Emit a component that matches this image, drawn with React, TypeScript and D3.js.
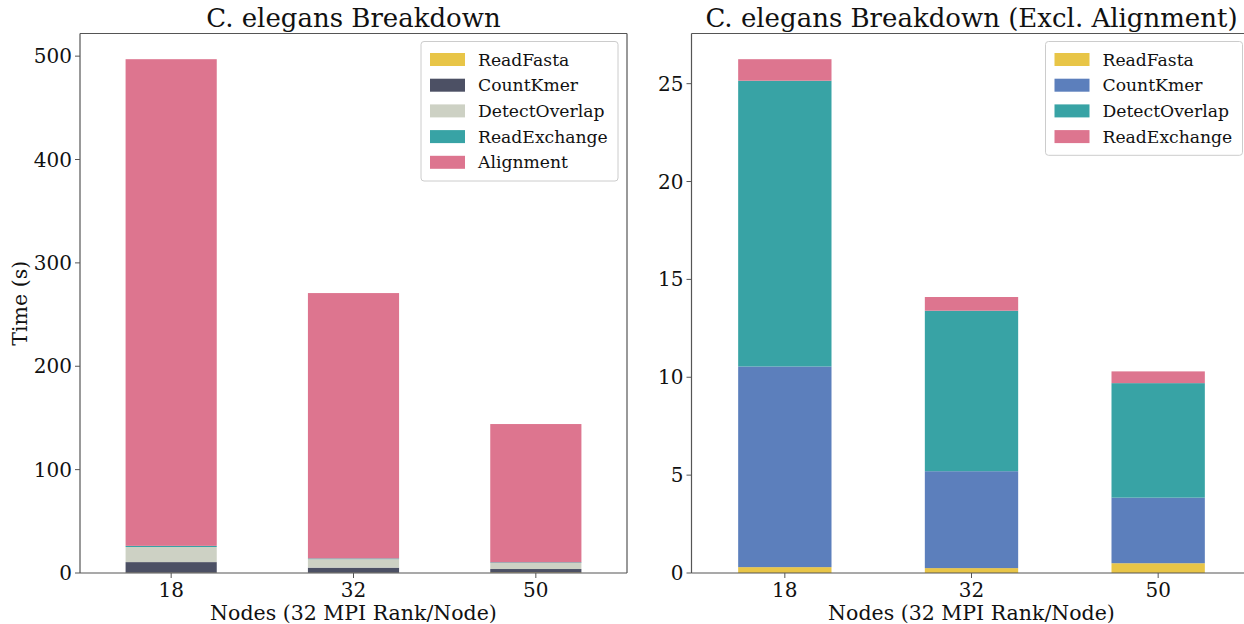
import React from "react";
import * as d3 from "d3";

// Node counts on the x axis
const categories = ["18", "32", "50"];

// Per-phase times in seconds
const readFasta = [0.3, 0.25, 0.5];
const countKmer = [10.25, 4.95, 3.35];
const detectOverlap = [14.6, 8.2, 5.85];
const readExchange = [1.1, 0.7, 0.6];
const alignment = [470.8, 256.7, 133.8];

const leftTicks = [0, 100, 200, 300, 400, 500];
const rightTicks = [0, 5, 10, 15, 20, 25];

const leftSeries = [
  { name: "ReadFasta", values: readFasta, color: "#E8C547" },
  { name: "CountKmer", values: countKmer, color: "#4C5064" },
  { name: "DetectOverlap", values: detectOverlap, color: "#CDD1C4" },
  { name: "ReadExchange", values: readExchange, color: "#38A3A5" },
  { name: "Alignment", values: alignment, color: "#DD758F" },
];

const rightSeries = [
  { name: "ReadFasta", values: readFasta, color: "#E8C547" },
  { name: "CountKmer", values: countKmer, color: "#5C7FBC" },
  { name: "DetectOverlap", values: detectOverlap, color: "#38A3A5" },
  { name: "ReadExchange", values: readExchange, color: "#DD758F" },
];

const FONT = "'DejaVu Serif', serif";
const W = 1244;
const H = 624;
const TOP = 33.5;
const BOTTOM = 573;
const TICK_FS = 20;
const LABEL_FS = 20.5;
const TITLE_FS = 26;
const LEGEND_FS = 17.2;

type Series = { name: string; values: number[]; color: string };

function Panel({
  left,
  right,
  title,
  series,
  ticks,
  yLabel,
}: {
  left: number;
  right: number;
  title: string;
  series: Series[];
  ticks: number[];
  yLabel?: string;
}) {
  const totals = categories.map((_, i) => d3.sum(series, (s) => s.values[i]));
  const ymax = (d3.max(totals) as number) * 1.05;
  const x = d3
    .scaleBand<string>()
    .domain(categories)
    .range([left, right])
    .paddingInner(0.5)
    .paddingOuter(0.25);
  const y = d3.scaleLinear().domain([0, ymax]).range([BOTTOM, TOP]);

  const stack = d3
    .stack<number>()
    .keys(series.map((_, k) => String(k)))
    .value((i, key) => series[+key].values[i]);
  const layers = stack(categories.map((_, i) => i));

  const legendW = 197;
  const legendRight = right - 9;
  const legendLeft = legendRight - legendW;
  const legendTop = TOP + 8;
  const rowH = 25.7;
  const legendH = series.length * rowH + 11;

  const axisColor = "#555";

  return (
    <g>
      {layers.map((layer, k) => (
        <g key={k} fill={series[k].color}>
          {layer.map((d, i) => (
            <rect
              key={i}
              x={x(categories[i])}
              width={x.bandwidth()}
              y={y(d[1])}
              height={Math.max(0, y(d[0]) - y(d[1]))}
            />
          ))}
        </g>
      ))}
      {/* spines */}
      <line x1={left} x2={left} y1={TOP} y2={BOTTOM} stroke={axisColor} strokeWidth={1.2} />
      <line x1={left} x2={right} y1={TOP} y2={TOP} stroke={axisColor} strokeWidth={1.2} />
      <line x1={left} x2={right} y1={BOTTOM} y2={BOTTOM} stroke={axisColor} strokeWidth={1.2} />
      <line x1={right} x2={right} y1={TOP} y2={BOTTOM} stroke={axisColor} strokeWidth={1.2} />
      {/* y ticks */}
      {ticks.map((t) => (
        <g key={t} transform={`translate(0,${y(t)})`}>
          <line x1={left - 5} x2={left} stroke={axisColor} strokeWidth={1} />
          <text
            x={left - 8}
            dy="0.35em"
            textAnchor="end"
            fontFamily={FONT}
            fontSize={TICK_FS}
            fill="#111"
          >
            {t}
          </text>
        </g>
      ))}
      {/* x ticks */}
      {categories.map((c) => {
        const cx = (x(c) as number) + x.bandwidth() / 2;
        return (
          <g key={c} transform={`translate(${cx},${BOTTOM})`}>
            <line y1={0} y2={5} stroke={axisColor} strokeWidth={1} />
            <text y={24} textAnchor="middle" fontFamily={FONT} fontSize={TICK_FS} fill="#111">
              {c}
            </text>
          </g>
        );
      })}
      <text
        x={(left + right) / 2}
        y={620}
        textAnchor="middle"
        fontFamily={FONT}
        fontSize={LABEL_FS}
        fill="#111"
      >
        Nodes (32 MPI Rank/Node)
      </text>
      {yLabel && (
        <text
          transform={`translate(${left - 53},${(TOP + BOTTOM) / 2}) rotate(-90)`}
          textAnchor="middle"
          fontFamily={FONT}
          fontSize={LABEL_FS}
          fill="#111"
        >
          {yLabel}
        </text>
      )}
      <text
        x={(left + right) / 2}
        y={TOP - 7}
        textAnchor="middle"
        fontFamily={FONT}
        fontSize={TITLE_FS}
        fill="#111"
      >
        {title}
      </text>
      {/* legend */}
      <rect
        x={legendLeft}
        y={legendTop}
        width={legendW}
        height={legendH}
        rx={3}
        fill="#fff"
        fillOpacity={0.8}
        stroke="#ccc"
      />
      {series.map((s, k) => {
        const cy = legendTop + 18 + k * rowH;
        return (
          <g key={s.name}>
            <rect x={legendLeft + 9} y={cy - 6.5} width={35} height={13} fill={s.color} />
            <text
              x={legendLeft + 57}
              y={cy}
              dy="0.35em"
              fontFamily={FONT}
              fontSize={LEGEND_FS}
              fill="#111"
            >
              {s.name}
            </text>
          </g>
        );
      })}
    </g>
  );
}

export default function App() {
  return (
    <svg width={W} height={H} style={{ position: "absolute", left: 0, top: 0, background: "#fff" }}>
      <rect width={W} height={H} fill="#fff" />
      <Panel
        left={80}
        right={627}
        title="C. elegans Breakdown"
        series={leftSeries}
        ticks={leftTicks}
        yLabel="Time (s)"
      />
      <Panel
        left={691.5}
        right={1251.5}
        title="C. elegans Breakdown (Excl. Alignment)"
        series={rightSeries}
        ticks={rightTicks}
      />
    </svg>
  );
}
